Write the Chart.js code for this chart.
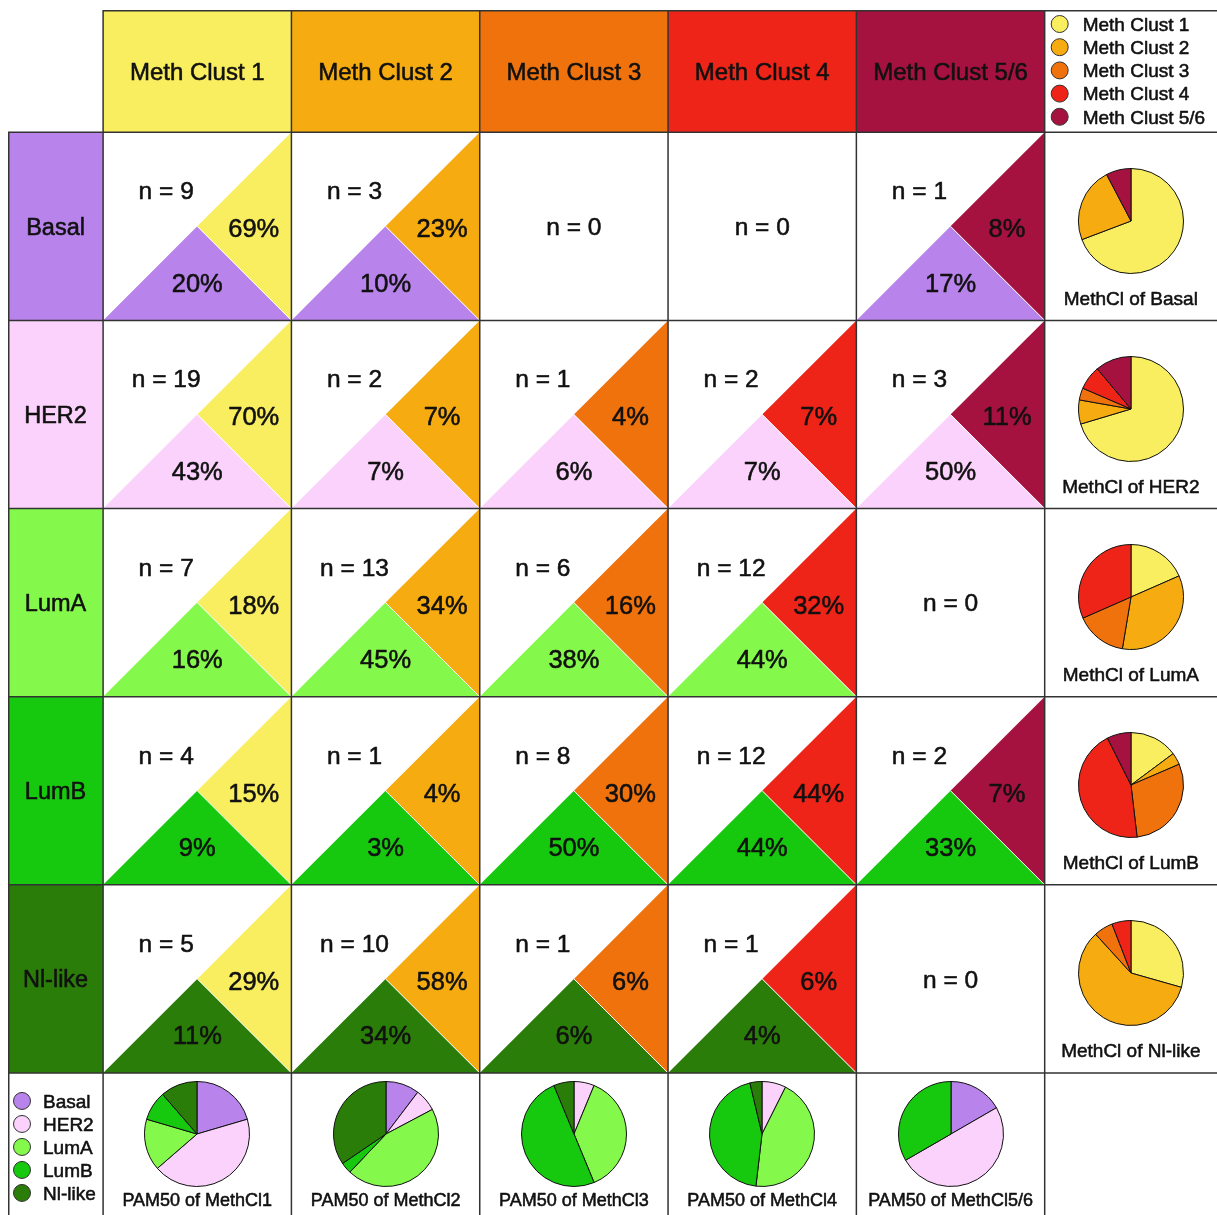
<!DOCTYPE html>
<html>
<head>
<meta charset="utf-8">
<title>PAM50 subtypes vs methylation clusters</title>
<script src="https://cdn.jsdelivr.net/npm/chart.js@4.4.1/dist/chart.umd.min.js"></script>
<style>
  html, body { margin: 0; padding: 0; background: #fff; }
  #wrap { position: relative; width: 1217px; height: 1215px; overflow: hidden; }
  #wrap canvas { position: absolute; left: 0; top: 0; }
</style>
</head>
<body>
<div id="wrap">
  <canvas id="grid" width="1217" height="1215"></canvas>
</div>
<script>
const methLabels = ["Meth Clust 1", "Meth Clust 2", "Meth Clust 3", "Meth Clust 4", "Meth Clust 5/6"];
const methShort = ["MethCl1", "MethCl2", "MethCl3", "MethCl4", "MethCl5/6"];
const pamLabels = ["Basal", "HER2", "LumA", "LumB", "Nl-like"];

// sample counts, rows = PAM50 subtype, columns = meth cluster
const counts = [
  [9, 3, 0, 0, 1],
  [19, 2, 1, 2, 3],
  [7, 13, 6, 12, 0],
  [4, 1, 8, 12, 2],
  [5, 10, 1, 1, 0]
];
// % of the subtype in this meth cluster (right triangle)
const rowPct = [
  [69, 23, 0, 0, 8],
  [70, 7, 4, 7, 11],
  [18, 34, 16, 32, 0],
  [15, 4, 30, 44, 7],
  [29, 58, 6, 6, 0]
];
// % of the meth cluster that is this subtype (bottom triangle)
const colPct = [
  [20, 10, 0, 0, 17],
  [43, 7, 6, 7, 50],
  [16, 45, 38, 44, 0],
  [9, 3, 50, 44, 33],
  [11, 34, 6, 4, 0]
];

const methColors = ["#f9ee5f", "#f6ac10", "#ef720c", "#ee2418", "#a5123f"];
const pamColors = ["#b883ea", "#fbd2fb", "#84f84b", "#17c90e", "#2b7d0a"];

const FONT = "'Liberation Sans', Arial, sans-serif";
const INK = "#111";
const LINE = "#333";

// text a bit heavier than plain regular, like the original
function txt(ctx, s, x, y, size, align) {
  ctx.font = size + "px " + FONT;
  ctx.fillStyle = INK;
  ctx.strokeStyle = INK;
  ctx.lineWidth = 0.55;
  ctx.lineJoin = "round";
  ctx.textAlign = align || "center";
  ctx.textBaseline = "middle";
  const yy = y + size * 0.08;
  ctx.fillText(s, x, yy);
  ctx.strokeText(s, x, yy);
}

function poly(ctx, pts, color) {
  ctx.beginPath();
  ctx.moveTo(pts[0][0], pts[0][1]);
  for (let i = 1; i < pts.length; i++) ctx.lineTo(pts[i][0], pts[i][1]);
  ctx.closePath();
  ctx.fillStyle = color;
  ctx.fill();
}

function dot(ctx, x, y, color) {
  ctx.beginPath();
  ctx.arc(x, y, 8.5, 0, Math.PI * 2);
  ctx.fillStyle = color;
  ctx.fill();
  ctx.lineWidth = 1;
  ctx.strokeStyle = "#333";
  ctx.stroke();
}

const gridPlugin = {
  id: "gridCells",
  afterDraw(chart) {
    const ctx = chart.ctx;
    const xs = chart.scales.x, ys = chart.scales.y;
    const px = v => xs.getPixelForValue(v);
    const py = v => ys.getPixelForValue(v);
    ctx.save();

    // header cells
    methColors.forEach((col, c) => {
      ctx.fillStyle = col;
      ctx.fillRect(px(c), py(ys.min), px(c + 1) - px(c), py(0) - py(ys.min));
    });
    pamColors.forEach((col, r) => {
      ctx.fillStyle = col;
      ctx.fillRect(px(xs.min), py(r), px(0) - px(xs.min), py(r + 1) - py(r));
    });

    // triangles
    counts.forEach((row, r) => {
      row.forEach((n, c) => {
        if (!n) return;
        const L = px(c), R = px(c + 1), T = py(r), B = py(r + 1);
        const mx = px(c + 0.5), my = py(r + 0.5);
        poly(ctx, [[R, T], [mx, my], [R, B]], methColors[c]);
        poly(ctx, [[L, B], [mx, my], [R, B]], pamColors[r]);
        ctx.beginPath();
        ctx.moveTo(mx, my);
        ctx.lineTo(R, B);
        ctx.strokeStyle = "#fff";
        ctx.lineWidth = 1;
        ctx.stroke();
      });
    });

    // grid lines
    ctx.strokeStyle = LINE;
    ctx.lineWidth = 1.5;
    ctx.beginPath();
    for (let c = 0; c <= 5; c++) {
      ctx.moveTo(px(c), py(ys.min));
      ctx.lineTo(px(c), py(ys.max));
    }
    ctx.moveTo(px(xs.min) + 0.75, py(0));
    ctx.lineTo(px(xs.min) + 0.75, py(ys.max));
    for (let r = 0; r <= 5; r++) {
      ctx.moveTo(px(xs.min), py(r));
      ctx.lineTo(px(xs.max), py(r));
    }
    ctx.moveTo(px(0), py(ys.min) + 0.75);
    ctx.lineTo(px(xs.max), py(ys.min) + 0.75);
    ctx.stroke();

    // header texts
    methLabels.forEach((s, c) => txt(ctx, s, px(c + 0.5), py(ys.min / 2), 24));
    pamLabels.forEach((s, r) => txt(ctx, s, px(xs.min / 2), py(r + 0.5), 23.5));

    // cell texts
    counts.forEach((row, r) => {
      row.forEach((n, c) => {
        if (!n) {
          txt(ctx, "n = 0", px(c + 0.5), py(r + 0.5), 24.5);
          return;
        }
        txt(ctx, "n = " + n, px(c + 0.335), py(r + 0.31), 24.5);
        txt(ctx, rowPct[r][c] + "%", px(c + 0.8), py(r + 0.51), 25.5);
        txt(ctx, colPct[r][c] + "%", px(c + 0.5), py(r + 0.8), 25.5);
      });
    });

    // pie captions
    const pieColX = (px(5) + px(xs.max)) / 2;
    pamLabels.forEach((s, r) => txt(ctx, "MethCl of " + s, pieColX, py(r + 0.88), 19));
    methShort.forEach((s, c) => txt(ctx, "PAM50 of " + s, px(c + 0.5), py(5.675), 18));

    // legends
    const lx = px(5), ly = py(ys.min);
    methLabels.forEach((s, i) => {
      dot(ctx, lx + 15, ly + 14 + i * 23.2, methColors[i]);
      txt(ctx, s, lx + 38, ly + 14 + i * 23.2, 19, "left");
    });
    const bx = px(xs.min), by = py(5);
    pamLabels.forEach((s, i) => {
      dot(ctx, bx + 14, by + 28 + i * 23, pamColors[i]);
      txt(ctx, s, bx + 35, by + 28 + i * 23, 19, "left");
    });

    ctx.restore();
  }
};

const grid = new Chart(document.getElementById("grid"), {
  type: "scatter",
  data: { datasets: [] },
  options: {
    responsive: false,
    animation: false,
    events: [],
    layout: { padding: { left: 8, top: 10, right: 0, bottom: 0 } },
    scales: {
      x: { type: "linear", bounds: "data", min: -0.505, max: 5.915, display: false },
      y: { type: "linear", bounds: "data", min: -0.65, max: 5.755, reverse: true, display: false }
    },
    plugins: { legend: { display: false }, tooltip: { enabled: false } }
  },
  plugins: [gridPlugin]
});

// pies
function makePie(labels, values, colors, cx, cy) {
  const size = 108;
  const cv = document.createElement("canvas");
  cv.width = size;
  cv.height = size;
  cv.style.left = (cx - size / 2) + "px";
  cv.style.top = (cy - size / 2) + "px";
  document.getElementById("wrap").appendChild(cv);
  new Chart(cv, {
    type: "pie",
    data: {
      labels,
      datasets: [{ data: values, backgroundColor: colors, borderColor: "#111", borderWidth: 1 }]
    },
    options: {
      responsive: false,
      animation: false,
      events: [],
      layout: { padding: 1 },
      plugins: { legend: { display: false }, tooltip: { enabled: false } }
    }
  });
}

const sx = grid.scales.x, sy = grid.scales.y;
const pieColX = (sx.getPixelForValue(5) + sx.getPixelForValue(sx.max)) / 2;
pamLabels.forEach((s, r) => {
  makePie(methLabels, counts[r], methColors, pieColX, sy.getPixelForValue(r + 0.47));
});
methLabels.forEach((s, c) => {
  makePie(pamLabels, counts.map(row => row[c]), pamColors, sx.getPixelForValue(c + 0.5), sy.getPixelForValue(5.325));
});
</script>
</body>
</html>
